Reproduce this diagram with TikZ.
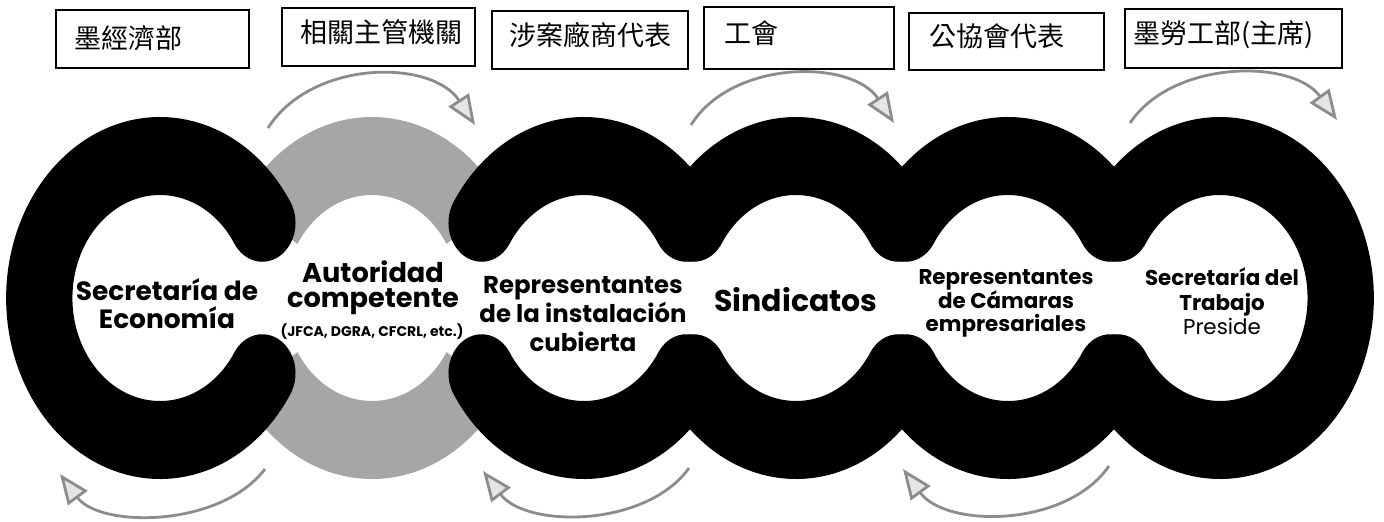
\documentclass[tikz,border=0pt]{standalone}
\usepackage{fontspec}
\setmainfont{Poppins}
\newfontfamily\cjk{Noto Sans CJK TC}
\usetikzlibrary{arrows.meta}
\begin{document}
\begin{tikzpicture}[x=0.5pt,y=0.5pt,
  blackring/.style={draw=black,line width=39pt,line cap=round},
  grayring/.style={draw=black!35,line width=39pt},
  cbox/.style={draw=black,line width=0.9pt,rectangle,font=\cjk\fontsize{13.5}{15}\selectfont,align=left,inner ysep=0pt,text depth=6pt},
  lab/.style={align=center},
  flow/.style={draw=black!45,line width=1.4pt,-{Triangle[length=15pt,width=12pt,fill=black!10]}}
]
\useasboundingbox (0,0) rectangle (1384,521);
\fill[white] (0,0) rectangle (1384,521);

% rings
\begin{scope}[transform canvas={xscale=0.85}]
  \draw[grayring] ({372/0.85+142*cos(32)},{223+142*sin(32)}) arc[start angle=32,end angle=148,radius=142];
  \draw[grayring] ({372/0.85+142*cos(212)},{223+142*sin(212)}) arc[start angle=212,end angle=328,radius=142];
  \draw[blackring] ({160/0.85+142*cos(32)},{223+142*sin(32)}) arc[start angle=32,end angle=328,radius=142];
  \foreach \cx in {584,796,1008}{
    \draw[blackring] ({\cx/0.85+142*cos(32)},{223+142*sin(32)}) arc[start angle=32,end angle=148,radius=142];
    \draw[blackring] ({\cx/0.85+142*cos(212)},{223+142*sin(212)}) arc[start angle=212,end angle=328,radius=142];
  }
  \draw[blackring] ({1220/0.85+142*cos(-148)},{223+142*sin(-148)}) arc[start angle=-148,end angle=148,radius=142];
\end{scope}

% boxes
\node[cbox,minimum width=96.5pt,minimum height=29pt,text width=78.5pt,inner xsep=9pt,text depth=2pt] (b1) at (152.5,482) {墨經濟部};
\node[cbox,minimum width=96.5pt,minimum height=29pt,text width=78.5pt,inner xsep=9pt] (b2) at (378.5,484) {相關主管機關};
\node[cbox,minimum width=98pt,minimum height=29pt,text width=81pt,inner xsep=8.5pt] (b3) at (590,481) {涉案廠商代表};
\node[cbox,minimum width=95pt,minimum height=31pt,text width=75pt,inner xsep=10pt] (b4) at (799,483) {工會};
\node[cbox,minimum width=97.5pt,minimum height=28.5pt,text width=77.5pt,inner xsep=10pt] (b5) at (1006.5,479.5) {公協會代表};
\node[cbox,minimum width=108.5pt,minimum height=29.5pt,text width=100.5pt,inner xsep=4pt] (b6) at (1233.5,482.5) {墨勞工部(主席)};

% ring labels
\node[lab,font=\fontsize{13.2}{14}\selectfont\bfseries] (t1) at (167,217) {Secretaría de\\Economía};
\node[lab,font=\fontsize{13.6}{12.5}\selectfont\bfseries] (t2) at (373,233) {Autoridad\\competente};
\node[lab,font=\fontsize{7}{8}\selectfont\bfseries] (t2s) at (372,189.5) {(JFCA, DGRA, CFCRL, etc.)};
\node[lab,font=\fontsize{12.2}{14.5}\selectfont\bfseries] (t3) at (583,207) {Representantes\\de la instalación\\cubierta};
\node[lab,font=\fontsize{15}{16}\selectfont\bfseries] (t4) at (796,221) {Sindicatos};
\node[lab,font=\fontsize{10.7}{11.75}\selectfont\bfseries] (t5) at (1006,217.5) {Representantes\\de Cámaras\\empresariales};
\node[lab,font=\fontsize{10.7}{12.25}\selectfont] (t6) at (1222,219.5) {\bfseries Secretaría del\\\bfseries Trabajo\\Preside};

% arrows
\coordinate (a1s) at (268,393); \coordinate (a1e) at (475,396);
\coordinate (a2s) at (691,396); \coordinate (a2e) at (894,398);
\coordinate (a3s) at (1130,398); \coordinate (a3e) at (1337,401);
\coordinate (a4s) at (265,52); \coordinate (a4e) at (60,47);
\coordinate (a5s) at (689,53); \coordinate (a5e) at (483,50);
\coordinate (a6s) at (1109,55); \coordinate (a6e) at (903,52);
\draw[flow] (a1s) .. controls (312,462) and (432,462) .. (a1e);
\draw[flow] (a2s) .. controls (732,462) and (852,462) .. (a2e);
\draw[flow] (a3s) .. controls (1173,462) and (1293,462) .. (a3e);
\draw[flow] (a4s) .. controls (220,-7) and (100,-7) .. (a4e);
\draw[flow] (a5s) .. controls (646,-7) and (526,-7) .. (a5e);
\draw[flow] (a6s) .. controls (1066,-7) and (946,-7) .. (a6e);
\end{tikzpicture}
\end{document}
